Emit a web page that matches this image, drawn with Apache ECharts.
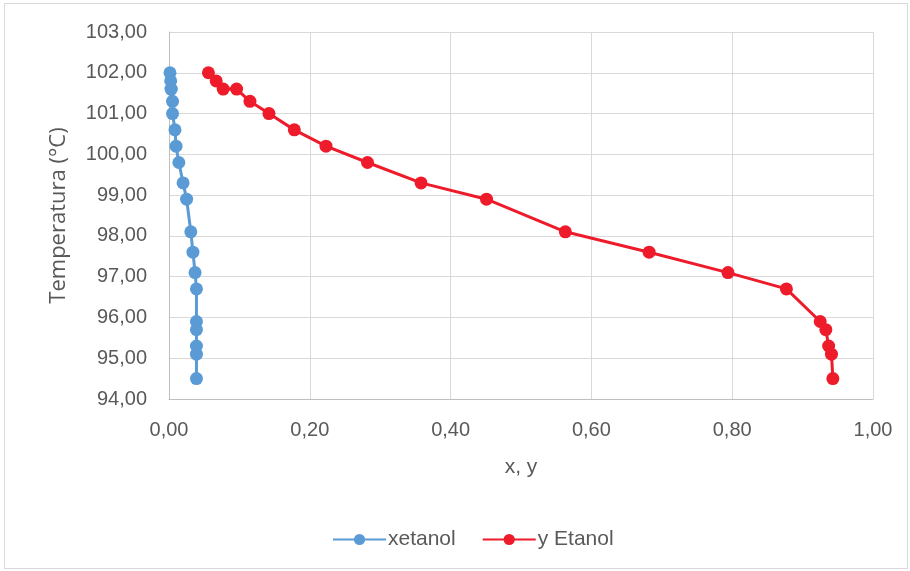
<!DOCTYPE html>
<html>
<head>
<meta charset="utf-8">
<script src="https://cdn.jsdelivr.net/npm/echarts@6/dist/echarts.min.js"></script>
<style>
html,body{margin:0;padding:0;background:#fff;}
#frame{position:absolute;left:4px;top:3px;width:904px;height:566px;border:1px solid #d9d9d9;box-sizing:border-box;}
#c{position:absolute;left:0;top:0;width:910px;height:571px;}
</style>
</head>
<body>
<div id="frame"></div>
<div id="c"></div>
<script>
const temperatures = [102.0, 101.8, 101.6, 101.6, 101.3, 101.0, 100.6, 100.2, 99.8, 99.3, 98.9, 98.1, 97.6, 97.1, 96.7, 95.9, 95.7, 95.3, 95.1, 94.5];
const xEtanol = [0.0014, 0.0024, 0.003, 0.003, 0.005, 0.005, 0.0085, 0.010, 0.014, 0.020, 0.025, 0.031, 0.034, 0.037, 0.039, 0.039, 0.039, 0.039, 0.039, 0.039];
const yEtanol = [0.056, 0.067, 0.077, 0.096, 0.115, 0.142, 0.178, 0.223, 0.282, 0.358, 0.451, 0.563, 0.682, 0.794, 0.877, 0.925, 0.933, 0.937, 0.941, 0.943];
const seriesNames = ['xetanol', 'y Etanol'];

const fmt = v => v.toFixed(2).replace('.', ',');
const labelFont = "'Liberation Sans', sans-serif";

const chart = echarts.init(document.getElementById('c'));
chart.setOption({
  animation: false,
  grid: {left: 169, right: 37, top: 32, bottom: 172, containLabel: false},
  xAxis: {
    type: 'value', min: 0, max: 1, interval: 0.2,
    name: 'x, y', nameLocation: 'middle', nameGap: 58,
    nameTextStyle: {fontSize: 21, color: '#595959', fontFamily: labelFont},
    axisLine: {show: true, lineStyle: {color: '#bfbfbf'}},
    axisTick: {show: false},
    axisLabel: {formatter: fmt, fontSize: 20, color: '#595959', fontFamily: labelFont, margin: 21},
    splitLine: {show: true, lineStyle: {color: '#d9d9d9'}}
  },
  yAxis: {
    type: 'value', min: 94, max: 103, interval: 1,
    name: 'Temperatura (°C)', nameLocation: 'middle', nameGap: 99,
    nameTextStyle: {fontSize: 22, color: '#595959', fontFamily: "'Open Sans', sans-serif"},
    axisLine: {show: true, lineStyle: {color: '#bfbfbf'}},
    axisTick: {show: false},
    axisLabel: {formatter: fmt, fontSize: 20, color: '#595959', fontFamily: labelFont, margin: 22},
    splitLine: {show: true, lineStyle: {color: '#d9d9d9'}}
  },
  legend: {
    top: 524, left: 327, itemWidth: 53, itemHeight: 14, itemGap: 26,
    textStyle: {fontSize: 21, color: '#595959', fontFamily: labelFont, padding: [0, 0, 0, -3]},
    data: seriesNames
  },
  series: [
    {
      name: seriesNames[0], type: 'line',
      data: xEtanol.map((x, i) => [x, temperatures[i]]),
      symbol: 'circle', symbolSize: 13,
      lineStyle: {width: 3, color: '#5b9bd5'},
      itemStyle: {color: '#5b9bd5'}
    },
    {
      name: seriesNames[1], type: 'line',
      data: yEtanol.map((x, i) => [x, temperatures[i]]),
      symbol: 'circle', symbolSize: 13,
      lineStyle: {width: 3, color: '#ee1b2b'},
      itemStyle: {color: '#ee1b2b'}
    }
  ]
});
</script>
</body>
</html>
